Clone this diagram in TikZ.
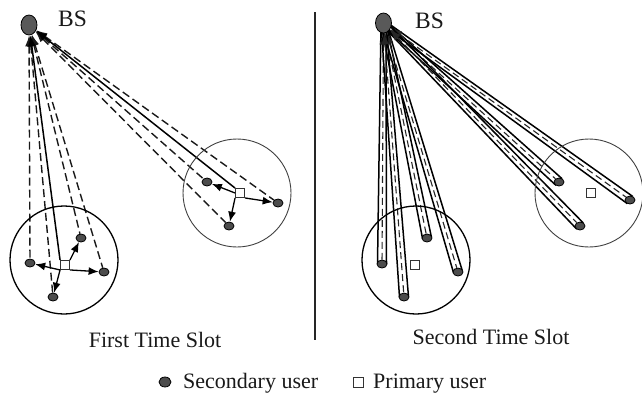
\documentclass[tikz,border=0pt]{standalone}
\usepackage{fontspec}
\setmainfont{Liberation Serif}
\usetikzlibrary{shapes.geometric,arrows.meta,calc,backgrounds}
\begin{document}
\begin{tikzpicture}[x=1pt,y=-1pt]
\tikzstyle{every node}+=[inner sep=0pt]
\tikzstyle{bsnode}=[ellipse, draw=black, line width=0.8pt, fill=black!65, minimum width=16pt, minimum height=20pt]
\tikzstyle{sunode}=[ellipse, draw=black, line width=0.8pt, fill=black!70, minimum width=10pt, minimum height=8pt]
\tikzstyle{punode}=[rectangle, draw=black!80, line width=0.9pt, fill=white, minimum size=9pt]
\tikzstyle{cell}=[circle, draw=black, line width=1.3pt, minimum size=108pt]
\tikzstyle{cellthin}=[circle, draw=black!75, line width=0.9pt, minimum size=108pt]
\tikzstyle{lbl}=[font=\fontsize{22}{26}\selectfont, text=black!90]
\tikzstyle{sulink}=[black!90, line width=1.4pt, dash pattern=on 8pt off 4pt, {Latex[length=11pt,width=8pt]}-]
\tikzstyle{pulink}=[black, line width=1.5pt, {Latex[length=11pt,width=8pt]}-]
\tikzstyle{sense}=[black, line width=1.3pt, -{Latex[length=10pt,width=8pt]}]
\tikzstyle{tube}=[black, line width=1.5pt]
\tikzstyle{tubemid}=[black!85, line width=1.1pt, dash pattern=on 7pt off 4pt, {Latex[length=11pt,width=8pt]}-]
\useasboundingbox (0,0) rectangle (642,400);
% first time slot
\node[bsnode] (bsl) at (29,25) {};
\node[lbl, font=\fontsize{23.5}{28}\selectfont, anchor=base west] (bsltxt) at (58,26) {BS};
\node[cell] (celll1) at (64,260) {};
\node[cellthin] (celll2) at (237,193) {};
\node[sunode] (la) at (30,263) {};
\node[sunode] (lb) at (81,238) {};
\node[sunode] (lc) at (104,272) {};
\node[sunode] (ld) at (53,297) {};
\node[sunode] (le) at (207,182) {};
\node[sunode] (lf) at (278,203) {};
\node[sunode] (lg) at (229,226) {};
\node[punode] (lp1) at (65,265) {};
\node[punode] (lp2) at (240,193) {};
\begin{pgfonlayer}{background}
\draw[sulink] (bsl) -- (la);
\draw[sulink] (bsl) -- (lb);
\draw[sulink] (bsl) -- (lc);
\draw[sulink] (bsl) -- (ld);
\draw[sulink] (bsl) -- (le);
\draw[sulink] (bsl) -- (lf);
\draw[sulink] (bsl) -- (lg);
\draw[pulink] (bsl) -- (lp1.north west);
\draw[pulink] (bsl) -- (lp2.north west);
\end{pgfonlayer}
\draw[sense] (lp1.south west) -- (la);
\draw[sense] (lp1.north east) -- (lb);
\draw[sense] (lp1.south east) -- (lc);
\draw[sense] (lp1.south west) -- (ld);
\draw[sense] (lp2.west) -- (le);
\draw[sense] (lp2.south east) -- (lf);
\draw[sense] (lp2.south west) -- (lg);
\node[lbl, anchor=base] (slot1) at (155,347) {First Time Slot};
% divider
\coordinate (divtop) at (315,12);
\coordinate (divbot) at (315,340);
\draw[line width=1.5pt, black!85] (divtop) -- (divbot);
% second time slot
\node[bsnode] (bsr) at (383.5,23) {};
\node[lbl, font=\fontsize{23.5}{28}\selectfont, anchor=base west] (bsrtxt) at (415,28) {BS};
\node[cell] (cellr1) at (416,260) {};
\node[cellthin] (cellr2) at (589,193) {};
\node[sunode] (ra) at (382,264) {};
\node[sunode] (rb) at (427,238) {};
\node[sunode] (rc) at (458,272) {};
\node[sunode] (rd) at (404,297) {};
\node[sunode] (re) at (559,182) {};
\node[sunode] (rf) at (630,200) {};
\node[sunode] (rg) at (580,226) {};
\node[punode] (rp1) at (415,265) {};
\node[punode] (rp2) at (591,193) {};
\begin{pgfonlayer}{background}
\draw[tube] ($(bsr)!2.5pt!90:(ra)$) -- ($(ra)!4.5pt!-90:(bsr)$);
\draw[tube] ($(bsr)!2.5pt!-90:(ra)$) -- ($(ra)!4.5pt!90:(bsr)$);
\draw[tubemid] (bsr) -- (ra);
\draw[tube] ($(bsr)!2.5pt!90:(rb)$) -- ($(rb)!4.5pt!-90:(bsr)$);
\draw[tube] ($(bsr)!2.5pt!-90:(rb)$) -- ($(rb)!4.5pt!90:(bsr)$);
\draw[tubemid] (bsr) -- (rb);
\draw[tube] ($(bsr)!2.5pt!90:(rc)$) -- ($(rc)!4.5pt!-90:(bsr)$);
\draw[tube] ($(bsr)!2.5pt!-90:(rc)$) -- ($(rc)!4.5pt!90:(bsr)$);
\draw[tubemid] (bsr) -- (rc);
\draw[tube] ($(bsr)!2.5pt!90:(rd)$) -- ($(rd)!4.5pt!-90:(bsr)$);
\draw[tube] ($(bsr)!2.5pt!-90:(rd)$) -- ($(rd)!4.5pt!90:(bsr)$);
\draw[tubemid] (bsr) -- (rd);
\draw[tube] ($(bsr)!2.5pt!90:(re)$) -- ($(re)!4.5pt!-90:(bsr)$);
\draw[tube] ($(bsr)!2.5pt!-90:(re)$) -- ($(re)!4.5pt!90:(bsr)$);
\draw[tubemid] (bsr) -- (re);
\draw[tube] ($(bsr)!2.5pt!90:(rf)$) -- ($(rf)!4.5pt!-90:(bsr)$);
\draw[tube] ($(bsr)!2.5pt!-90:(rf)$) -- ($(rf)!4.5pt!90:(bsr)$);
\draw[tubemid] (bsr) -- (rf);
\draw[tube] ($(bsr)!2.5pt!90:(rg)$) -- ($(rg)!4.5pt!-90:(bsr)$);
\draw[tube] ($(bsr)!2.5pt!-90:(rg)$) -- ($(rg)!4.5pt!90:(bsr)$);
\draw[tubemid] (bsr) -- (rg);
\end{pgfonlayer}
\node[lbl, anchor=base] (slot2) at (491,344) {Second Time Slot};
% legend
\node[sunode, minimum width=12pt, minimum height=10pt] (legsu) at (165,382) {};
\node[lbl, anchor=base west] (legsutxt) at (183,388) {Secondary user};
\node[punode, minimum size=10pt] (legpu) at (358,382) {};
\node[lbl, anchor=base west] (legputxt) at (373,388) {Primary user};
\end{tikzpicture}
\end{document}
